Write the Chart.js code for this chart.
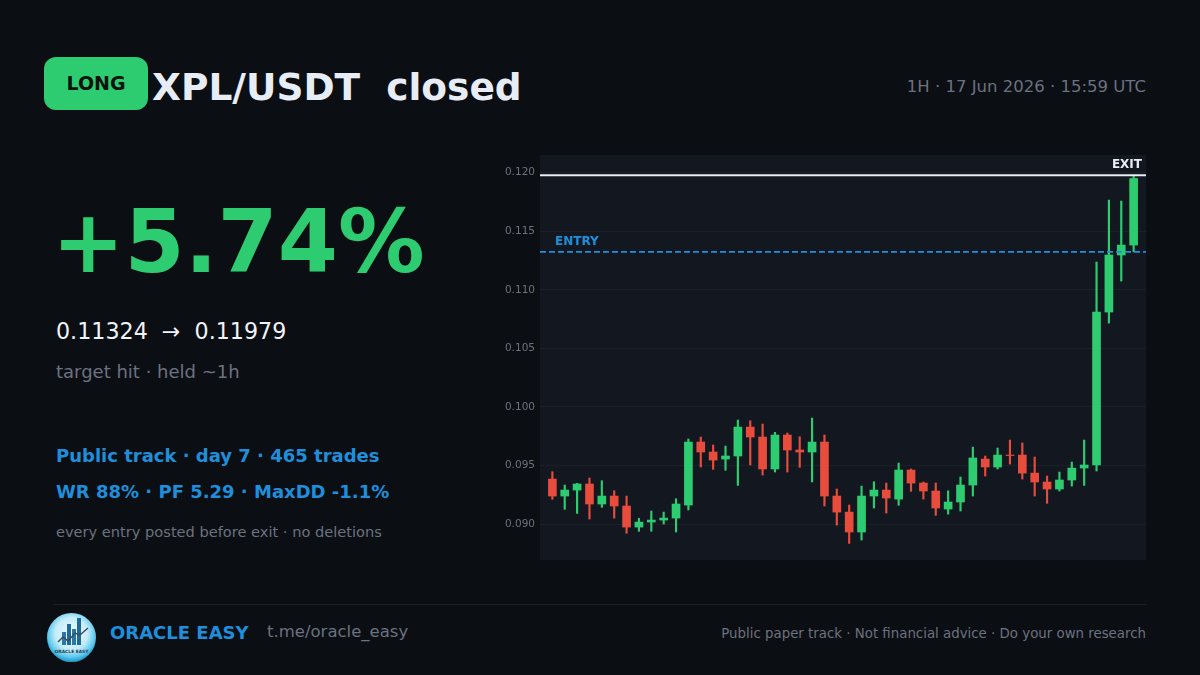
<!DOCTYPE html>
<html>
<head>
<meta charset="utf-8">
<title>XPL/USDT closed</title>
<script src="https://cdn.jsdelivr.net/npm/chart.js@4"></script>
<style>
  html, body { margin: 0; padding: 0; background: #0b0e13; }
  #card { position: relative; width: 1200px; height: 675px; overflow: hidden; background: #0b0e13; font-family: "DejaVu Sans", sans-serif; }
  #card div { position: absolute; white-space: pre; line-height: 1; }
  #badge { left: 44px; top: 57px; width: 104px; height: 53px; border-radius: 12px; background: #2ecc71; color: #06140c; font-weight: bold; font-size: 19px; line-height: 53px !important; text-align: center; }
  #title { left: 152px; top: 69px; font-size: 37.5px; font-weight: bold; color: #e8edf5; }
  #when { right: 54px; top: 79px; font-size: 16.5px; color: #6b7280; }
  #pct { left: 52px; top: 199px; font-size: 86.5px; font-weight: bold; color: #2ecc71; }
  #prices { left: 56px; top: 320px; font-size: 22.2px; color: #f0f3f8; }
  #note { left: 56px; top: 363px; font-size: 18px; color: #6b7280; }
  #track1 { left: 56px; top: 447px; font-size: 18px; font-weight: bold; color: #1f8fdc; }
  #track2 { left: 56px; top: 483px; font-size: 18px; font-weight: bold; color: #1f8fdc; }
  #promise { left: 56px; top: 525px; font-size: 14.6px; color: #6b7280; }
  #rule { left: 54px; top: 604px; width: 1092px; height: 1px; background: #1c222b; }
  #brand { left: 110px; top: 624px; font-size: 18px; font-weight: bold; color: #1f8fdc; }
  #handle { left: 267px; top: 624px; font-size: 16.5px; color: #6b7280; }
  #legal { right: 54px; top: 627px; font-size: 13.35px; color: #6b7280; }
  #chartBox { left: 490px; top: 155px; width: 656px; height: 405px; }
  #logo { position: absolute; left: 46px; top: 612px; }
</style>
</head>
<body>
<div id="card">
  <div id="badge">LONG</div>
  <div id="title">XPL/USDT  closed</div>
  <div id="when">1H · 17 Jun 2026 · 15:59 UTC</div>
  <div id="pct">+5.74%</div>
  <div id="prices">0.11324  →  0.11979</div>
  <div id="note">target hit · held ~1h</div>
  <div id="track1">Public track · day 7 · 465 trades</div>
  <div id="track2">WR 88% · PF 5.29 · MaxDD -1.1%</div>
  <div id="promise">every entry posted before exit · no deletions</div>
  <div id="chartBox"><canvas id="candles" width="656" height="405"></canvas></div>
  <div id="rule"></div>
  <svg id="logo" width="51" height="51" viewBox="0 0 51 51">
    <defs>
      <radialGradient id="orb" cx="50%" cy="42%" r="55%">
        <stop offset="0%" stop-color="#f2fbff"/>
        <stop offset="60%" stop-color="#c4ecfb"/>
        <stop offset="88%" stop-color="#5cc8ee"/>
        <stop offset="100%" stop-color="#2aa5d8"/>
      </radialGradient>
    </defs>
    <circle cx="25.5" cy="25.5" r="24.5" fill="url(#orb)"/>
    <rect x="16" y="20" width="4" height="13" fill="#2b78a8"/>
    <rect x="21" y="12" width="4" height="21" fill="#1f6a9c"/>
    <rect x="26" y="17" width="4" height="16" fill="#2b78a8"/>
    <rect x="31" y="6" width="4" height="27" fill="#1f6a9c"/>
    <polyline points="12,30 17,25 22,29 29,21 34,23 42,16" fill="none" stroke="#3b4a55" stroke-width="1.4"/>
    <text x="25.5" y="40.5" font-size="4.4" font-weight="bold" text-anchor="middle" fill="#2d3f4c" font-family="DejaVu Sans">ORACLE EASY</text>
  </svg>
  <div id="brand">ORACLE EASY</div>
  <div id="handle">t.me/oracle_easy</div>
  <div id="legal">Public paper track · Not financial advice · Do your own research</div>
</div>

<script>
const openPrices = [0.09384, 0.09239, 0.09290, 0.09342, 0.09171, 0.09239, 0.09154, 0.08974, 0.09017, 0.09034, 0.09051, 0.09162,
  0.09700, 0.09615, 0.09555, 0.09581, 0.09828, 0.09743, 0.09470, 0.09760, 0.09632, 0.09615, 0.09700, 0.09239,
  0.09102, 0.08932, 0.09239, 0.09290, 0.09213, 0.09461, 0.09350, 0.09282, 0.09128, 0.09188, 0.09333, 0.09555,
  0.09487, 0.09589, 0.09589, 0.09435, 0.09359, 0.09299, 0.09376, 0.09478, 0.09504, 0.10810, 0.11297, 0.11382];
const closePrices = [0.09239, 0.09290, 0.09342, 0.09171, 0.09239, 0.09154, 0.08974, 0.09017, 0.09034, 0.09051, 0.09171, 0.09700,
  0.09615, 0.09546, 0.09581, 0.09828, 0.09743, 0.09470, 0.09760, 0.09632, 0.09615, 0.09700, 0.09239, 0.09102,
  0.08932, 0.09239, 0.09290, 0.09222, 0.09461, 0.09350, 0.09282, 0.09137, 0.09188, 0.09333, 0.09564, 0.09487,
  0.09589, 0.09585, 0.09435, 0.09359, 0.09299, 0.09376, 0.09478, 0.09504, 0.10810, 0.11297, 0.11382, 0.11950];
const highPrices = [0.09447, 0.09333, 0.09347, 0.09393, 0.09370, 0.09284, 0.09239, 0.09049, 0.09111, 0.09102, 0.09216, 0.09726,
  0.09743, 0.09675, 0.09666, 0.09888, 0.09882, 0.09854, 0.09783, 0.09777, 0.09745, 0.09905, 0.09760, 0.09299,
  0.09162, 0.09324, 0.09361, 0.09350, 0.09521, 0.09470, 0.09359, 0.09350, 0.09284, 0.09401, 0.09657, 0.09581,
  0.09649, 0.09717, 0.09692, 0.09572, 0.09410, 0.09444, 0.09529, 0.09717, 0.11237, 0.11766, 0.11758, 0.11979];
const lowPrices = [0.09211, 0.09126, 0.09091, 0.09043, 0.09143, 0.09051, 0.08921, 0.08938, 0.08938, 0.09000, 0.08932, 0.09120,
  0.09487, 0.09467, 0.09459, 0.09330, 0.09504, 0.09418, 0.09444, 0.09444, 0.09484, 0.09359, 0.09154, 0.08991,
  0.08835, 0.08863, 0.09137, 0.09094, 0.09160, 0.09279, 0.09213, 0.09074, 0.09085, 0.09111, 0.09239, 0.09410,
  0.09470, 0.09512, 0.09384, 0.09239, 0.09177, 0.09282, 0.09324, 0.09330, 0.09453, 0.10716, 0.11075, 0.11324];
const tickValues = [0.090, 0.095, 0.100, 0.105, 0.110, 0.115, 0.120];
const entryPrice = 0.11324;
const exitPrice = 0.11979;

const green = "#2ecc71";
const red = "#e74c3c";
const candleIndex = openPrices.map((_, i) => i + 1);
const candleColors = openPrices.map((o, i) => (closePrices[i] >= o ? green : red));

// plot panel behind the candles
const panelPlugin = {
  id: "panel",
  beforeDraw(chart) {
    const a = chart.chartArea;
    chart.ctx.fillStyle = "#131820";
    chart.ctx.fillRect(a.left, a.top, a.width, a.height);
  }
};

// entry and exit levels run the full width of the panel
const levelsPlugin = {
  id: "levels",
  afterDatasetsDraw(chart) {
    const ctx = chart.ctx;
    const a = chart.chartArea;
    const y = chart.scales.y;
    ctx.save();

    ctx.strokeStyle = "#1f8fdc";
    ctx.lineWidth = 1.6;
    ctx.setLineDash([6, 3]);
    ctx.beginPath();
    ctx.moveTo(a.left, y.getPixelForValue(entryPrice));
    ctx.lineTo(a.right, y.getPixelForValue(entryPrice));
    ctx.stroke();

    ctx.strokeStyle = "#e8edf5";
    ctx.lineWidth = 2;
    ctx.setLineDash([]);
    ctx.beginPath();
    ctx.moveTo(a.left, y.getPixelForValue(exitPrice));
    ctx.lineTo(a.right, y.getPixelForValue(exitPrice));
    ctx.stroke();

    ctx.font = "bold 12px 'DejaVu Sans'";
    ctx.textBaseline = "middle";
    ctx.fillStyle = "#1f8fdc";
    ctx.textAlign = "left";
    ctx.fillText("ENTRY", a.left + 15, y.getPixelForValue(entryPrice) - 10);
    ctx.fillStyle = "#e8edf5";
    ctx.textAlign = "right";
    ctx.fillText("EXIT", a.right - 4, y.getPixelForValue(exitPrice) - 10);
    ctx.restore();
  }
};

new Chart(document.getElementById("candles"), {
  type: "bar",
  data: {
    datasets: [
      {
        label: "body",
        data: candleIndex.map((n, i) => ({ x: n, y: [openPrices[i], closePrices[i]] })),
        backgroundColor: candleColors,
        barThickness: 8,
        order: 1
      },
      {
        label: "wick",
        data: candleIndex.map((n, i) => ({ x: n, y: [lowPrices[i], highPrices[i]] })),
        backgroundColor: candleColors,
        barThickness: 1.5,
        order: 2
      }
    ]
  },
  options: {
    responsive: false,
    animation: false,
    devicePixelRatio: 1,
    layout: { autoPadding: false, padding: 0 },
    plugins: { legend: { display: false }, tooltip: { enabled: false } },
    datasets: { bar: { grouped: false } },
    scales: {
      x: { type: "linear", display: false, offset: false, min: 0, max: 49 },
      y: {
        min: 0.08693,
        max: 0.12151,
        afterFit(scale) {
          scale.width = 50;
          // the labels sit inside the panel height, so no room is kept for them
          scale.paddingTop = 0;
          scale.paddingBottom = 0;
        },
        afterBuildTicks(scale) { scale.ticks = tickValues.map(v => ({ value: v })); },
        border: { display: false },
        grid: { color: "#1b2028", lineWidth: 1, drawTicks: false },
        ticks: {
          color: "#6b7280",
          font: { family: "DejaVu Sans", size: 10.5 },
          padding: 5,
          callback: v => v.toFixed(3)
        }
      }
    }
  },
  plugins: [panelPlugin, levelsPlugin]
});
</script>
</body>
</html>
